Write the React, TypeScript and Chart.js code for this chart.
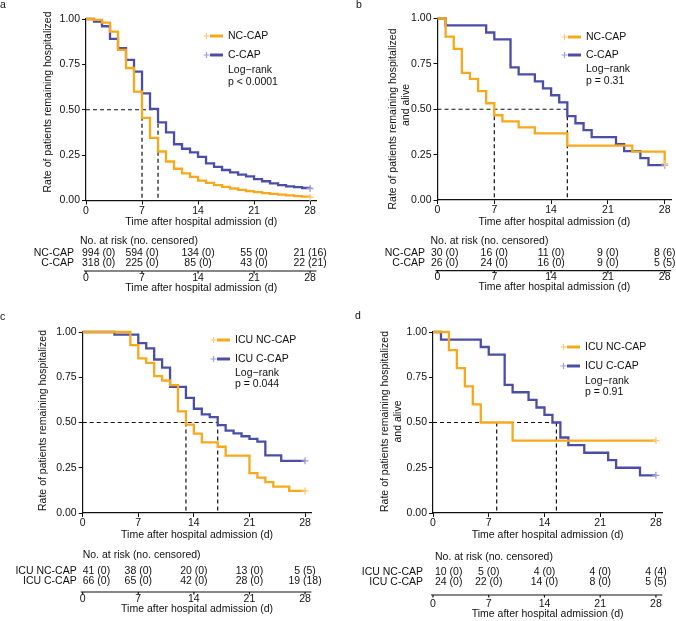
import React, { useEffect, useRef } from 'react';
import { Chart, registerables } from 'chart.js';

Chart.register(...registerables);

const FONT = '"Liberation Sans", Arial, Helvetica, sans-serif';
const FONT_SIZE = 10.5;
const ORANGE = '#F7A81B';
const BLUE = '#4A4EA8';
const ORANGE_LIGHT = '#FBCB78';
const BLUE_LIGHT = '#9DA0DA';

const X_TICKS = [0, 7, 14, 21, 28];
const Y_TICKS = [0, 0.25, 0.5, 0.75, 1];
const RISK_TIMES = [0, 7, 14, 21, 28];
const X_TITLE = 'Time after hospital admission (d)';
const RISK_HEADING = 'No. at risk (no. censored)';
const LOG_RANK = 'Log\u2212rank';

// ---------- Panel a ----------
const A_LABELS = ['NC-CAP', 'C-CAP'];
const A_NC_T = [0, 1, 2, 3, 4, 5, 6, 7, 8, 9, 10, 11, 12, 13, 14, 15, 16, 17, 18, 19, 20, 21, 22, 23, 24, 25, 26, 27, 28];
const A_NC_S = [1, 0.995, 0.98, 0.93, 0.83, 0.73, 0.6, 0.455, 0.345, 0.27, 0.215, 0.175, 0.15, 0.13, 0.11, 0.097, 0.085, 0.075, 0.066, 0.058, 0.052, 0.046, 0.041, 0.036, 0.032, 0.028, 0.024, 0.021, 0.017];
const A_C_T = [0, 1, 2, 3, 4, 5, 6, 7, 8, 9, 10, 11, 12, 13, 14, 15, 16, 17, 18, 19, 20, 21, 22, 23, 24, 25, 26, 27, 28];
const A_C_S = [1, 0.985, 0.96, 0.89, 0.84, 0.775, 0.71, 0.59, 0.505, 0.43, 0.375, 0.31, 0.285, 0.265, 0.24, 0.205, 0.185, 0.168, 0.155, 0.143, 0.133, 0.118, 0.106, 0.094, 0.085, 0.078, 0.074, 0.069, 0.066];
const A_MEDIANS = [7, 9];
const A_P = 'p < 0.0001';
const A_RISK_NC_N = [994, 594, 134, 55, 21];
const A_RISK_NC_C = [0, 0, 0, 0, 16];
const A_RISK_C_N = [318, 225, 85, 43, 22];
const A_RISK_C_C = [0, 0, 0, 0, 21];

// ---------- Panel b ----------
const B_LABELS = ['NC-CAP', 'C-CAP'];
const B_NC_T = [0, 1, 2, 3, 4, 5, 6, 7, 8, 10, 12, 16, 24, 28];
const B_NC_S = [1, 0.9, 0.833, 0.7, 0.667, 0.6, 0.533, 0.467, 0.433, 0.4, 0.367, 0.3, 0.267, 0.2];
const B_C_T = [0, 1, 6, 7, 9, 10, 12, 13, 14, 15, 16, 17, 18, 19, 22, 23, 25, 26, 28];
const B_C_S = [1, 0.962, 0.923, 0.885, 0.731, 0.692, 0.654, 0.615, 0.577, 0.538, 0.462, 0.423, 0.385, 0.346, 0.308, 0.269, 0.231, 0.192, 0.192];
const B_MEDIANS = [7, 16];
const B_P = 'p = 0.31';
const B_RISK_NC_N = [30, 16, 11, 9, 8];
const B_RISK_NC_C = [0, 0, 0, 0, 6];
const B_RISK_C_N = [26, 24, 16, 9, 5];
const B_RISK_C_C = [0, 0, 0, 0, 5];

// ---------- Panel c ----------
const C_LABELS = ['ICU NC-CAP', 'ICU C-CAP'];
const C_NC_T = [0, 6, 7, 8, 9, 10, 11, 12, 13, 14, 15, 17, 18, 21, 22, 23, 24, 26, 28];
const C_NC_S = [1, 0.927, 0.854, 0.829, 0.756, 0.732, 0.707, 0.561, 0.488, 0.439, 0.39, 0.366, 0.317, 0.22, 0.195, 0.171, 0.146, 0.122, 0.122];
const C_C_T = [0, 4, 7, 8, 9, 10, 11, 13, 14, 15, 16, 17, 18, 19, 20, 21, 22, 23, 25, 28];
const C_C_S = [1, 0.985, 0.939, 0.909, 0.848, 0.803, 0.697, 0.636, 0.576, 0.545, 0.53, 0.485, 0.455, 0.44, 0.424, 0.41, 0.394, 0.318, 0.288, 0.288];
const C_MEDIANS = [13, 17];
const C_P = 'p = 0.044';
const C_RISK_NC_N = [41, 38, 20, 13, 5];
const C_RISK_NC_C = [0, 0, 0, 0, 5];
const C_RISK_C_N = [66, 65, 42, 28, 19];
const C_RISK_C_C = [0, 0, 0, 0, 18];

// ---------- Panel d ----------
const D_LABELS = ['ICU NC-CAP', 'ICU C-CAP'];
const D_NC_T = [0, 2, 3, 4, 5, 6, 10, 28];
const D_NC_S = [1, 0.9, 0.8, 0.7, 0.6, 0.5, 0.4, 0.4];
const D_C_T = [0, 1, 6, 7, 9, 10, 12, 13, 14, 15, 16, 17, 19, 22, 23, 26, 28];
const D_C_S = [1, 0.958, 0.917, 0.875, 0.708, 0.667, 0.625, 0.583, 0.542, 0.5, 0.417, 0.375, 0.333, 0.292, 0.25, 0.208, 0.208];
const D_MEDIANS = [8, 15.5];
const D_P = 'p = 0.91';
const D_RISK_NC_N = [10, 5, 4, 4, 4];
const D_RISK_NC_C = [0, 0, 0, 0, 4];
const D_RISK_C_N = [24, 22, 14, 8, 5];
const D_RISK_C_C = [0, 0, 0, 0, 5];

const Y_TITLE_1 = ['Rate of patients remaining hospitalized'];
const Y_TITLE_2 = ['Rate of patients remaining hospitalized', 'and alive'];

type Group = { label: string; t: number[]; s: number[]; color: string; light: string; riskN: number[]; riskC: number[] };

const mkGroups = (labels: string[], t1: number[], s1: number[], t2: number[], s2: number[], n1: number[], c1: number[], n2: number[], c2: number[]): Group[] => [
  { label: labels[0], t: t1, s: s1, color: ORANGE, light: ORANGE_LIGHT, riskN: n1, riskC: c1 },
  { label: labels[1], t: t2, s: s2, color: BLUE, light: BLUE_LIGHT, riskN: n2, riskC: c2 },
];

const PANELS = [
  {
    key: 'a', letter: 'a', letterX: 0, letterY: 5,
    pos: { x: 0, y: 0, w: 338, h: 310 },
    area: { left: 86, right: 316.5, top: 19, bottom: 200.5 },
    xMax: 28.8,
    groups: mkGroups(A_LABELS, A_NC_T, A_NC_S, A_C_T, A_C_S, A_RISK_NC_N, A_RISK_NC_C, A_RISK_C_N, A_RISK_C_C),
    medians: A_MEDIANS, p: A_P,
    yTitle: Y_TITLE_1, yTitleX: [48], yTitleY: [102],
    legend: { textDx: 142, rowDy: [17, 36], lrDy: 51, pDy: 63 },
    table: { headDx: -6, headDy: 40.5, rowLabelDx: -12, rowDy: [52.5, 62.5], firstDx: -4, axisDy: 70.5, tickLabDy: 6.8, titleDy: 16.8 },
  },
  {
    key: 'b', letter: 'b', letterX: 18, letterY: 5,
    pos: { x: 338, y: 0, w: 338, h: 310 },
    area: { left: 99.5, right: 334.5, top: 18.5, bottom: 200 },
    xMax: 28.8,
    groups: mkGroups(B_LABELS, B_NC_T, B_NC_S, B_C_T, B_C_S, B_RISK_NC_N, B_RISK_NC_C, B_RISK_C_N, B_RISK_C_C),
    medians: B_MEDIANS, p: B_P,
    yTitle: Y_TITLE_2, yTitleX: [55, 68], yTitleY: [119, 105],
    legend: { textDx: 148.5, rowDy: [18.5, 36.5], lrDy: 50.5, pDy: 62.5 },
    table: { headDx: -7, headDy: 41, rowLabelDx: -12.5, rowDy: [52.7, 63.3], firstDx: -6.5, axisDy: 70.7, tickLabDy: 6.6, titleDy: 16.6 },
  },
  {
    key: 'c', letter: 'c', letterX: 0, letterY: 7,
    pos: { x: 0, y: 310, w: 338, h: 311 },
    area: { left: 82.7, right: 311.4, top: 22, bottom: 203 },
    xMax: 28.8,
    groups: mkGroups(C_LABELS, C_NC_T, C_NC_S, C_C_T, C_C_S, C_RISK_NC_N, C_RISK_NC_C, C_RISK_C_N, C_RISK_C_C),
    medians: C_MEDIANS, p: C_P,
    yTitle: Y_TITLE_1, yTitleX: [43], yTitleY: [110.5],
    legend: { textDx: 152.3, rowDy: [8, 27], lrDy: 41, pDy: 52 },
    table: { headDx: 0, headDy: 42, rowLabelDx: -6, rowDy: [58, 68], firstDx: 0, axisDy: 79, tickLabDy: 7, titleDy: 17 },
  },
  {
    key: 'd', letter: 'd', letterX: 17, letterY: 6,
    pos: { x: 338, y: 310, w: 338, h: 311 },
    area: { left: 95, right: 324.3, top: 22, bottom: 203 },
    xMax: 28.8,
    groups: mkGroups(D_LABELS, D_NC_T, D_NC_S, D_C_T, D_C_S, D_RISK_NC_N, D_RISK_NC_C, D_RISK_C_N, D_RISK_C_C),
    medians: D_MEDIANS, p: D_P,
    yTitle: Y_TITLE_2, yTitleX: [47, 60], yTitleY: [111.5, 111.5],
    legend: { textDx: 152, rowDy: [15, 34], lrDy: 49, pDy: 60 },
    table: { headDx: 2, headDy: 44, rowLabelDx: -10, rowDy: [59, 69], firstDx: 2, axisDy: 82, tickLabDy: 9, titleDy: 19 },
  },
];

const fText = `${FONT_SIZE}px ${FONT}`;
const X_SCALE_H = 28;

function makeOverlay(cfg: any) {
  return {
    id: 'kmOverlay_' + cfg.key,
    beforeDatasetsDraw(chart: any) {
      const { ctx } = chart;
      const xs = chart.scales.x;
      const ys = chart.scales.y;
      const y05 = ys.getPixelForValue(0.5);
      const y0 = ys.getPixelForValue(0);
      const x0 = xs.getPixelForValue(0);
      const mMax = Math.max(...cfg.medians);
      ctx.save();
      ctx.strokeStyle = '#111';
      ctx.lineWidth = 1.2;
      ctx.setLineDash([4, 3]);
      ctx.beginPath();
      ctx.moveTo(x0, y05);
      ctx.lineTo(xs.getPixelForValue(mMax), y05);
      cfg.medians.forEach((m: number) => {
        const xm = xs.getPixelForValue(m);
        ctx.moveTo(xm, y05);
        ctx.lineTo(xm, y0);
      });
      ctx.stroke();
      ctx.restore();
    },
    afterDraw(chart: any) {
      const { ctx, chartArea: area } = chart;
      const xs = chart.scales.x;
      ctx.save();
      ctx.fillStyle = '#111';
      ctx.font = fText;

      // panel letter
      ctx.textAlign = 'left';
      ctx.textBaseline = 'middle';
      ctx.fillText(cfg.letter, cfg.letterX, cfg.letterY);

      // y title
      cfg.yTitle.forEach((line: string, i: number) => {
        ctx.save();
        ctx.translate(cfg.yTitleX[i], cfg.yTitleY[i]);
        ctx.rotate(-Math.PI / 2);
        ctx.textAlign = 'center';
        ctx.textBaseline = 'middle';
        ctx.fillText(line, 0, 0);
        ctx.restore();
      });

      // legend
      const lg = cfg.legend;
      const tx = area.left + lg.textDx;
      cfg.groups.forEach((g: Group, i: number) => {
        const y = area.top + lg.rowDy[i];
        ctx.strokeStyle = g.color;
        ctx.lineWidth = 3;
        ctx.setLineDash([]);
        ctx.beginPath();
        ctx.moveTo(tx - 18, y);
        ctx.lineTo(tx - 5, y);
        ctx.stroke();
        ctx.strokeStyle = g.light;
        ctx.lineWidth = 1.2;
        ctx.beginPath();
        ctx.moveTo(tx - 24.5, y);
        ctx.lineTo(tx - 18.5, y);
        ctx.moveTo(tx - 21.5, y - 3);
        ctx.lineTo(tx - 21.5, y + 3);
        ctx.stroke();
        ctx.fillStyle = '#111';
        ctx.textAlign = 'left';
        ctx.textBaseline = 'middle';
        ctx.fillText(g.label, tx, y);
      });
      ctx.fillText(LOG_RANK, tx, area.top + lg.lrDy);
      ctx.fillText(cfg.p, tx, area.top + lg.pDy);

      // risk table
      const tb = cfg.table;
      const b = area.bottom;
      ctx.textBaseline = 'middle';
      ctx.textAlign = 'left';
      ctx.fillText(RISK_HEADING, area.left + tb.headDx, b + tb.headDy);
      cfg.groups.forEach((g: Group, i: number) => {
        const y = b + tb.rowDy[i];
        ctx.textAlign = 'right';
        ctx.fillText(g.label, area.left + tb.rowLabelDx, y);
        RISK_TIMES.forEach((t, j) => {
          const txt = `${g.riskN[j]} (${g.riskC[j]})`;
          if (j === 0) {
            ctx.textAlign = 'left';
            ctx.fillText(txt, area.left + tb.firstDx, y);
          } else {
            ctx.textAlign = 'center';
            ctx.fillText(txt, xs.getPixelForValue(t), y);
          }
        });
      });
      // second axis
      const ay = b + tb.axisDy;
      ctx.strokeStyle = '#111';
      ctx.lineWidth = 1.2;
      ctx.setLineDash([]);
      ctx.beginPath();
      ctx.moveTo(area.left - 2, ay);
      ctx.lineTo(area.right, ay);
      X_TICKS.forEach((t) => {
        const xp = xs.getPixelForValue(t);
        ctx.moveTo(xp, ay);
        ctx.lineTo(xp, ay + 2.5);
      });
      ctx.stroke();
      ctx.textAlign = 'center';
      X_TICKS.forEach((t) => {
        ctx.fillText(String(t), xs.getPixelForValue(t), ay + tb.tickLabDy);
      });
      ctx.fillText(X_TITLE, (area.left + area.right) / 2, ay + tb.titleDy);
      ctx.restore();
    },
  };
}

function KMPanel({ cfg }: { cfg: any }) {
  const ref = useRef<HTMLCanvasElement | null>(null);
  useEffect(() => {
    const canvas = ref.current;
    if (!canvas) return;
    const { w, h } = cfg.pos;
    const area = cfg.area;
    const datasets = cfg.groups.map((g: Group) => ({
      label: g.label,
      data: g.t.map((t: number, i: number) => ({ x: t, y: g.s[i] })),
      borderColor: g.color,
      borderWidth: 2.3,
      stepped: true,
      fill: false,
      tension: 0,
      clip: 6,
      pointStyle: 'cross',
      pointRadius: g.t.map((_: number, i: number) => (i === g.t.length - 1 ? 3.5 : 0)),
      pointHoverRadius: 0,
      pointBorderColor: g.light,
      pointBackgroundColor: g.light,
      pointBorderWidth: 1.3,
    }));
    const tickFont = { family: FONT, size: FONT_SIZE };
    const chart = new Chart(canvas, {
      type: 'line',
      data: { datasets },
      options: {
        responsive: false,
        animation: false,
        devicePixelRatio: 1,
        events: [],
        layout: {
          padding: { left: 0, top: area.top, right: w - area.right, bottom: h - area.bottom - X_SCALE_H },
        },
        plugins: { legend: { display: false }, tooltip: { enabled: false } },
        scales: {
          x: {
            type: 'linear',
            min: 0,
            max: cfg.xMax,
            afterBuildTicks: (s: any) => { s.ticks = X_TICKS.map((v) => ({ value: v })); },
            afterFit: (s: any) => { s.height = X_SCALE_H; },
            ticks: { font: tickFont, color: '#111', padding: 0, maxRotation: 0, autoSkip: false },
            grid: { drawOnChartArea: false, drawTicks: true, tickLength: 4, color: '#111', lineWidth: 1 },
            border: { display: true, color: '#111', width: 1.2 },
            title: { display: true, text: X_TITLE, font: tickFont, color: '#111', padding: 0 },
          },
          y: {
            type: 'linear',
            min: 0,
            max: 1,
            afterBuildTicks: (s: any) => { s.ticks = Y_TICKS.map((v) => ({ value: v })); },
            afterFit: (s: any) => { s.width = area.left; },
            ticks: { font: tickFont, color: '#111', padding: 2, callback: (v: any) => Number(v).toFixed(2) },
            grid: { drawOnChartArea: false, drawTicks: true, tickLength: 4, color: '#111', lineWidth: 1 },
            border: { display: true, color: '#111', width: 1.2 },
          },
        },
      },
      plugins: [makeOverlay(cfg)],
    } as any);
    return () => chart.destroy();
  }, [cfg]);
  return (
    <div style={{ position: 'absolute', left: cfg.pos.x, top: cfg.pos.y, width: cfg.pos.w, height: cfg.pos.h }}>
      <canvas ref={ref} width={cfg.pos.w} height={cfg.pos.h} style={{ display: 'block', width: cfg.pos.w, height: cfg.pos.h }} />
    </div>
  );
}

export default function App() {
  return (
    <div style={{ position: 'absolute', left: 0, top: 0, width: 676, height: 621, background: '#fff', overflow: 'hidden' }}>
      {PANELS.map((p) => (
        <KMPanel key={p.key} cfg={p} />
      ))}
    </div>
  );
}
